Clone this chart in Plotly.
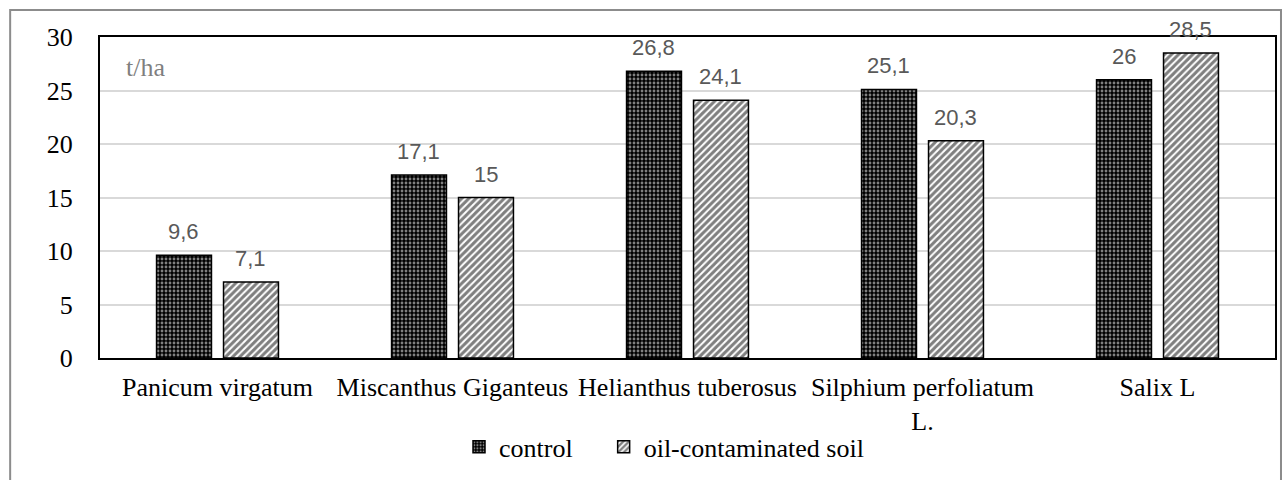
import plotly.graph_objects as go

crops = ["Panicum virgatum", "Miscanthus Giganteus", "Helianthus tuberosus",
         "Silphium perfoliatum<br>L.", "Salix L"]
control = [9.6, 17.1, 26.8, 25.1, 26]
oil_soil = [7.1, 15, 24.1, 20.3, 28.5]


def labels(values):
    return [f"{v:g}".replace(".", ",") for v in values]


serif = "Liberation Serif"
sans = "Liberation Sans"

fig = go.Figure()
fig.add_bar(
    x=crops, y=control, name="control" + "&nbsp;" * 4,
    marker=dict(color="black", line=dict(color="black", width=1.5),
                pattern=dict(shape=".", fgcolor="white", size=4, solidity=0.4)),
)
fig.add_bar(
    x=crops, y=oil_soil, name="oil-contaminated soil",
    marker=dict(color="white", line=dict(color="black", width=1.5),
                pattern=dict(shape="/", fgcolor="black", size=5, solidity=0.6)),
)

# value labels, shifted over each bar of the pair
for values, shift in [(control, -34), (oil_soil, 33)]:
    for crop, v, t in zip(crops, values, labels(values)):
        fig.add_annotation(x=crop, y=v, text=t, showarrow=False, xshift=shift, yshift=9,
                           yanchor="bottom", font=dict(family=sans, size=22, color="#595959"))

# outer frame of the chart
fig.add_shape(type="rect", xref="paper", yref="paper",
              x0=-90 / 1177, x1=1183 / 1177, y0=-132 / 321, y1=348 / 321,
              line=dict(color="#8c8c8c", width=2))
fig.add_annotation(text="t/ha", xref="paper", yref="paper", x=0.02, y=0.905,
                   xanchor="left", yanchor="middle", showarrow=False,
                   font=dict(family=serif, size=26, color="#7f7f7f"))

fig.update_layout(
    width=1284, height=480,
    margin=dict(l=100, r=7, t=37, b=122),
    paper_bgcolor="white", plot_bgcolor="white",
    barmode="group", bargap=0.43, bargroupgap=0.18,
    font=dict(family=serif, size=26, color="black"),
    legend=dict(orientation="h", x=0.48, xanchor="center", y=-0.277, yanchor="middle",
                font=dict(family=serif, size=26, color="black"), itemwidth=30),
    showlegend=True,
)
fig.update_xaxes(showline=True, linecolor="black", linewidth=2, mirror=True,
                 ticks="", tickfont=dict(family=serif, size=26), ticklabelstandoff=5)
fig.update_yaxes(range=[0, 30], dtick=5, showline=True, linecolor="black", linewidth=2,
                 mirror=True, showgrid=True, gridcolor="#d9d9d9", gridwidth=2,
                 zeroline=False, ticks="", ticklabelstandoff=20,
                 tickfont=dict(family=serif, size=26))

fig.write_html("out.html", config={"displayModeBar": False},
               post_script="document.body.style.margin = '0';")
